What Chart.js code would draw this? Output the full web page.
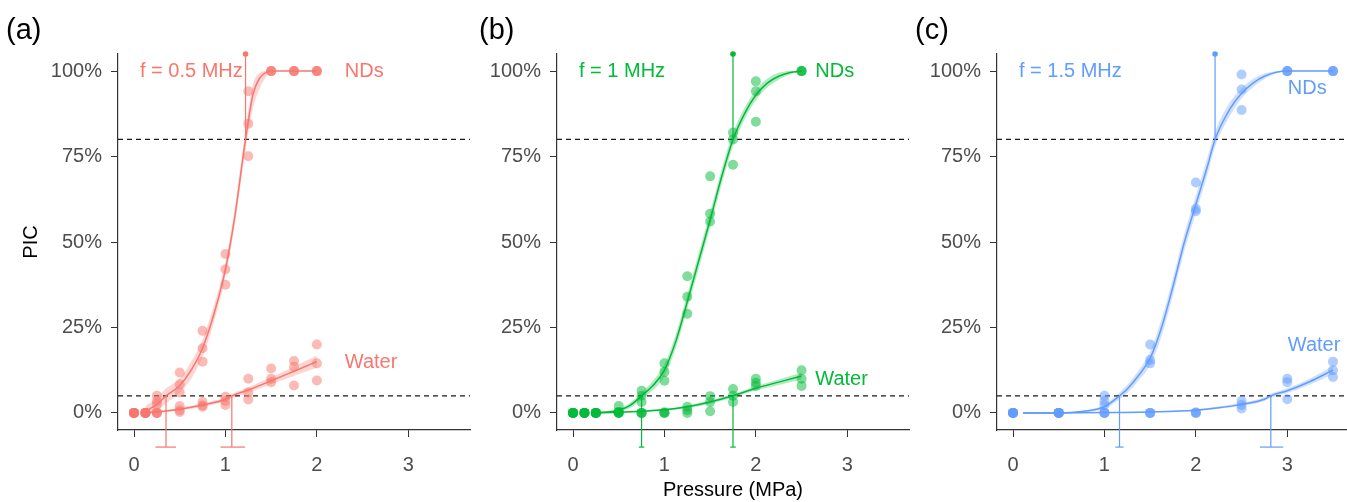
<!DOCTYPE html>
<html>
<head>
<meta charset="utf-8">
<script src="https://cdn.jsdelivr.net/npm/chart.js@4.4.0/dist/chart.umd.min.js"></script>
<style>
  html, body { margin: 0; padding: 0; background: #fff; overflow: hidden; width: 1347px; height: 502px; }
  canvas { position: absolute; top: 0; }
</style>
</head>
<body>
<canvas id="pa" width="475" height="502" style="left:0px"></canvas>
<canvas id="pb" width="475" height="502" style="left:439px"></canvas>
<canvas id="pc" width="475" height="502" style="left:879px"></canvas>
<script>
// ---- axes ----
const xTicks = [0, 1, 2, 3];
const yTicks = [0, 0.25, 0.5, 0.75, 1];
const thresholds = [0.05, 0.8];

// ---- (a) f = 0.5 MHz ----
const aP = [0, 0.125, 0.25, 0.5, 0.75, 1, 1.25, 1.5, 1.75, 2];
const aNds = [[0,0,0],[0,0,0],[0.05,0.035,0.025],[0.118,0.084,0.06],[0.24,0.189,0.15],
              [0.465,0.42,0.375],[0.941,0.846,0.751],[1,1,1],[1,1,1],[1,1,1]];
const aWater = [[0,0,0],[0,0,0],[0,0,0],[0.02,0.008,0.003],[0.032,0.022,0.018],
                [0.047,0.035,0.023],[0.1,0.06,0.039],[0.13,0.1,0.09],[0.152,0.135,0.08],[0.2,0.145,0.095]];
const aNdsFitP = [0.125,0.25,0.35,0.5,0.625,0.75,0.875,1.0,1.1,1.22,1.3,1.375,1.45,1.5,1.75,2.0];
const aNdsFit  = [0.005,0.025,0.05,0.08,0.125,0.19,0.29,0.42,0.57,0.80,0.93,0.98,0.997,1,1,1];
const aNdsLo   = [0,0.005,0.028,0.06,0.1,0.165,0.265,0.4,0.545,0.77,0.89,0.95,0.985,1,1,1];
const aNdsHi   = [0.02,0.045,0.072,0.1,0.15,0.215,0.315,0.44,0.595,0.83,0.96,0.995,1,1,1,1];
const aWatFitP = [0.125,0.25,0.5,0.75,1.0,1.07,1.25,1.5,1.75,2.0];
const aWatFit  = [0,0.003,0.011,0.023,0.04,0.05,0.067,0.094,0.122,0.15];
const aWatLo   = [0,0.001,0.007,0.018,0.034,0.043,0.059,0.084,0.108,0.132];
const aWatHi   = [0.002,0.006,0.015,0.028,0.046,0.056,0.075,0.104,0.136,0.168];
// threshold crossings: NDs 5%, NDs 80%, Water 5%
const aCross   = [0.35, 1.22, 1.07];
const aCrossLo = [0.234, 1.215, 0.946];
const aCrossHi = [0.46, 1.225, 1.216];

// ---- (b) f = 1 MHz ----
const bP = [0, 0.125, 0.25, 0.5, 0.75, 1, 1.25, 1.5, 1.75, 2, 2.5];
const bNds = [[0,0,0],[0,0,0],[0,0,0],[0.02,0.003,0],[0.065,0.05,0.032],[0.145,0.12,0.094],
              [0.4,0.34,0.29],[0.692,0.583,0.56],[0.82,0.8,0.726],[0.97,0.941,0.852],[1,1,1]];
const bWater = [[0,0,0],[0,0,0],[0,0,0],[0,0,0.003],[0,0,0],[0,0,0.002],[0.018,0.008,0],
                [0.049,0.032,0.005],[0.07,0.05,0.032],[0.1,0.088,0.079],[0.125,0.1,0.079]];
const bNdsFitP = [0.25,0.5,0.625,0.75,0.875,1.0,1.125,1.25,1.375,1.5,1.625,1.75,1.875,2.0,2.125,2.25,2.375,2.5];
const bNdsFit  = [0,0.008,0.022,0.05,0.08,0.125,0.21,0.325,0.445,0.565,0.69,0.80,0.875,0.93,0.965,0.985,0.996,1];
const bNdsLo   = [0,0.004,0.014,0.04,0.066,0.108,0.19,0.303,0.422,0.543,0.668,0.78,0.858,0.915,0.952,0.975,0.99,1];
const bNdsHi   = [0.002,0.012,0.03,0.06,0.094,0.142,0.23,0.347,0.468,0.587,0.712,0.82,0.892,0.945,0.978,0.995,1,1];
const bWatFitP = [0.25,0.5,0.75,1.0,1.25,1.5,1.75,2.0,2.25,2.5];
const bWatFit  = [0,0.002,0.005,0.009,0.018,0.032,0.05,0.072,0.09,0.108];
const bWatLo   = [0,0.001,0.003,0.006,0.014,0.027,0.045,0.066,0.082,0.098];
const bWatHi   = [0.001,0.003,0.007,0.012,0.022,0.037,0.055,0.078,0.098,0.118];
const bCross   = [0.75, 1.75, 1.75];
const bCrossLo = [0.72, 1.725, 1.72];
const bCrossHi = [0.78, 1.775, 1.78];

// ---- (c) f = 1.5 MHz ----
const cP = [0, 0.5, 1, 1.5, 2, 2.5, 3, 3.5];
const cNds = [[0,0,0],[0,0,0],[0.05,0.035,0.023],[0.2,0.155,0.145],[0.674,0.597,0.59],
              [0.99,0.946,0.886],[1,1,1],[1,1,1]];
const cWater = [[0,0,0],[0,0,0],[0,0,0],[0,0,0],[0.002,0,0],[0.035,0.023,0.013],
                [0.1,0.09,0.04],[0.15,0.125,0.105]];
const cNdsFitP = [0.11,0.5,0.75,1.0,1.165,1.25,1.375,1.5,1.625,1.75,1.875,2.0,2.125,2.21,2.375,2.5,2.625,2.75,3.0,3.5];
const cNdsFit  = [0,0,0.004,0.018,0.05,0.07,0.11,0.16,0.25,0.37,0.5,0.61,0.72,0.80,0.89,0.935,0.965,0.985,1,1];
const cNdsLo   = [0,0,0.002,0.012,0.04,0.058,0.095,0.14,0.225,0.345,0.475,0.585,0.695,0.778,0.87,0.92,0.953,0.977,1,1];
const cNdsHi   = [0,0,0.006,0.024,0.06,0.082,0.125,0.18,0.275,0.395,0.525,0.635,0.745,0.822,0.91,0.95,0.977,0.993,1,1];
const cWatFitP = [0.11,0.5,1.0,1.5,2.0,2.25,2.5,2.75,2.82,3.0,3.25,3.5];
const cWatFit  = [0,0,0.001,0.003,0.008,0.015,0.025,0.04,0.05,0.065,0.092,0.125];
const cWatLo   = [0,0,0,0.002,0.006,0.012,0.021,0.035,0.044,0.058,0.083,0.113];
const cWatHi   = [0,0.001,0.002,0.005,0.011,0.019,0.03,0.046,0.056,0.072,0.101,0.138];
const cCross   = [1.165, 2.21, 2.82];
const cCrossLo = [1.12, 2.195, 2.70];
const cCrossHi = [1.21, 2.225, 2.955];

// level of each crossing and where its bar ends (below axis / top of panel)
const crossLevel = [0.05, 0.8, 0.05];
const crossEnd   = [-0.1, 1.05, -0.1];

const FONT = '"Liberation Sans", Arial, Helvetica, sans-serif';
const X_MIN = -0.175, X_MAX = 3.675, Y_MIN = -0.05, Y_MAX = 1.05;

function xy(X, Y) { return X.map((x, i) => ({ x: x, y: Y[i] })); }
function reps(P, V) {
    const out = [];
    P.forEach((p, i) => V[i].forEach(v => out.push({ x: p, y: v })));
    return out;
}

function buildPanel(id, p) {
    const col = p.color;
    const ds = [];

    // confidence ribbons
    [[p.ndsFitP, p.ndsLo, p.ndsHi], [p.watFitP, p.watLo, p.watHi]].forEach(([X, lo, hi]) => {
        const idx = ds.length;
        ds.push({ data: xy(X, lo), showLine: true, borderWidth: 0, pointRadius: 0, fill: false,
                  cubicInterpolationMode: 'monotone', order: 6 });
        ds.push({ data: xy(X, hi), showLine: true, borderWidth: 0, pointRadius: 0, fill: { target: idx },
                  backgroundColor: col + '4D', cubicInterpolationMode: 'monotone', order: 6 });
    });

    // dashed threshold lines
    thresholds.forEach(t => {
        ds.push({ data: [{ x: X_MIN, y: t }, { x: X_MAX, y: t }], showLine: true, borderColor: '#1a1a1a',
                  borderWidth: 1.2, borderDash: [5, 4], pointRadius: 0, order: 5 });
    });

    // fitted curves
    [[p.ndsFitP, p.ndsFit], [p.watFitP, p.watFit]].forEach(([X, Y]) => {
        ds.push({ data: xy(X, Y), showLine: true, borderColor: col, borderWidth: 1.5, pointRadius: 0,
                  cubicInterpolationMode: 'monotone', order: 4 });
    });

    // threshold crossings with intervals
    p.cross.forEach((c, i) => {
        ds.push({ data: [{ x: c, y: crossLevel[i] }, { x: c, y: crossEnd[i] }], showLine: true,
                  borderColor: col, borderWidth: 1.2, pointRadius: 0, clip: false, order: 3 });
        ds.push({ data: [{ x: p.crossLo[i], y: crossEnd[i] }, { x: c, y: crossEnd[i] }, { x: p.crossHi[i], y: crossEnd[i] }],
                  showLine: true, borderColor: col, backgroundColor: col, borderWidth: 1.2,
                  pointRadius: [0, 2.8, 0], pointBorderWidth: 0, clip: false, order: 3 });
    });

    // replicate measurements
    [reps(p.P, p.nds), reps(p.P, p.water)].forEach(d => {
        ds.push({ data: d, showLine: false, pointRadius: 5, pointBorderWidth: 0,
                  backgroundColor: col + '80', order: 1 });
    });

    const textPlugin = {
        id: 'panelText',
        afterDraw(chart) {
            const { ctx, scales } = chart;
            ctx.save();
            ctx.textAlign = 'left';
            ctx.textBaseline = 'alphabetic';
            ctx.fillStyle = '#000';
            ctx.font = '29px ' + FONT;
            ctx.fillText(p.tag, p.tagX, 39);
            ctx.textBaseline = 'middle';
            ctx.font = '20px ' + FONT;
            ctx.fillStyle = col;
            p.labels.forEach(l => {
                ctx.fillText(l.text, scales.x.getPixelForValue(l.x), scales.y.getPixelForValue(l.y));
            });
            ctx.restore();
        }
    };

    return new Chart(document.getElementById(id), {
        type: 'scatter',
        data: { datasets: ds },
        plugins: [textPlugin],
        options: {
            responsive: false,
            animation: false,
            events: [],
            layout: { padding: { top: 54, left: 0, right: 0, bottom: 0 } },
            plugins: { legend: { display: false }, tooltip: { enabled: false } },
            scales: {
                x: {
                    type: 'linear', min: X_MIN, max: X_MAX,
                    afterFit: s => { s.height = 72; },
                    afterBuildTicks: s => { s.ticks = xTicks.map(v => ({ value: v })); },
                    grid: { drawOnChartArea: false, drawTicks: true, tickLength: 7, color: '#333', lineWidth: 1 },
                    border: { display: true, color: '#333', width: 1.2 },
                    ticks: { autoSkip: false, maxRotation: 0, padding: 16, color: '#4d4d4d',
                             font: { size: 20, family: FONT } },
                    title: { display: !!p.xTitle, text: p.xTitle || '', color: '#000',
                             font: { size: 20, family: FONT }, padding: { top: 0, bottom: 0 } }
                },
                y: {
                    type: 'linear', min: Y_MIN, max: Y_MAX,
                    afterFit: s => { s.width = 118; },
                    afterBuildTicks: s => { s.ticks = yTicks.map(v => ({ value: v })); },
                    grid: { drawOnChartArea: false, drawTicks: true, tickLength: 7, color: '#333', lineWidth: 1 },
                    border: { display: true, color: '#333', width: 1.2 },
                    ticks: { autoSkip: false, padding: 9, color: '#4d4d4d', font: { size: 20, family: FONT },
                             callback: v => Math.round(v * 100) + '%' },
                    title: { display: !!p.yTitle, text: p.yTitle || '', color: '#000',
                             font: { size: 20, family: FONT }, padding: { top: 19, bottom: 0 } }
                }
            }
        }
    });
}

buildPanel('pa', {
    color: '#F8766D', tag: '(a)', tagX: 6, yTitle: 'PIC',
    P: aP, nds: aNds, water: aWater,
    ndsFitP: aNdsFitP, ndsFit: aNdsFit, ndsLo: aNdsLo, ndsHi: aNdsHi,
    watFitP: aWatFitP, watFit: aWatFit, watLo: aWatLo, watHi: aWatHi,
    cross: aCross, crossLo: aCrossLo, crossHi: aCrossHi,
    labels: [{ text: 'f = 0.5 MHz', x: 0.065, y: 1.0 }, { text: 'NDs', x: 2.305, y: 1.0 },
             { text: 'Water', x: 2.305, y: 0.148 }]
});

buildPanel('pb', {
    color: '#00BA38', tag: '(b)', tagX: 40, xTitle: 'Pressure (MPa)',
    P: bP, nds: bNds, water: bWater,
    ndsFitP: bNdsFitP, ndsFit: bNdsFit, ndsLo: bNdsLo, ndsHi: bNdsHi,
    watFitP: bWatFitP, watFit: bWatFit, watLo: bWatLo, watHi: bWatHi,
    cross: bCross, crossLo: bCrossLo, crossHi: bCrossHi,
    labels: [{ text: 'f = 1 MHz', x: 0.065, y: 1.0 }, { text: 'NDs', x: 2.65, y: 1.0 },
             { text: 'Water', x: 2.65, y: 0.099 }]
});

buildPanel('pc', {
    color: '#619CFF', tag: '(c)', tagX: 36,
    P: cP, nds: cNds, water: cWater,
    ndsFitP: cNdsFitP, ndsFit: cNdsFit, ndsLo: cNdsLo, ndsHi: cNdsHi,
    watFitP: cWatFitP, watFit: cWatFit, watLo: cWatLo, watHi: cWatHi,
    cross: cCross, crossLo: cCrossLo, crossHi: cCrossHi,
    labels: [{ text: 'f = 1.5 MHz', x: 0.065, y: 1.0 }, { text: 'NDs', x: 3.005, y: 0.949 },
             { text: 'Water', x: 3.005, y: 0.196 }]
});
</script>
</body>
</html>
